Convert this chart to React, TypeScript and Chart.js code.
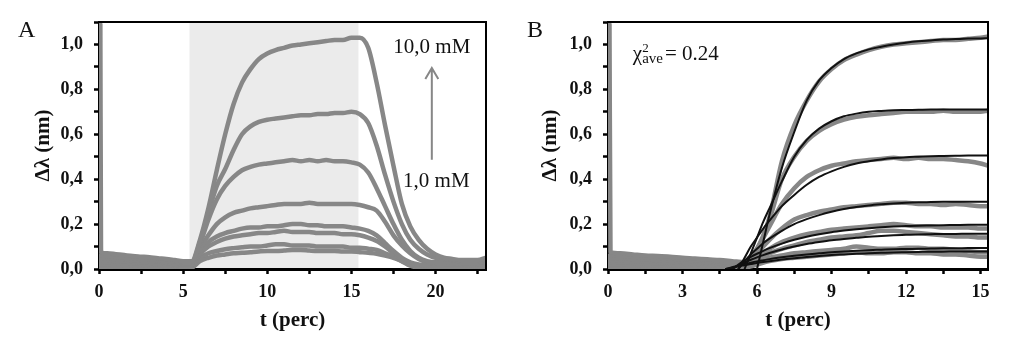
import React, { useEffect, useRef } from "react";
import { Chart, registerables } from "chart.js";

Chart.register(...registerables);

const SERIF = "'Liberation Serif', 'Times New Roman', Times, serif";
const TEXT = "#111111";
const DATA_GRAY = "#878787";
const FIT_BLACK = "#111111";
const SHADE = "#ebebeb";

// ---------- shared axis settings ----------
const Y_MIN = 0;
const Y_MAX = 1.1;
const Y_STEP = 0.1;
const Y_TITLE = "Δλ (nm)";
const X_TITLE = "t (perc)";

// ---------- Panel A ----------
const A_X_MAX = 23;
const A_X_STEP = 2.5;
const SHADE_FROM = 5.38;
const SHADE_TO = 15.42;
const ARROW_T = 19.78;
const ARROW_FROM = 0.486;
const ARROW_TO = 0.895;
const LABEL_HIGH = "10,0 mM";
const LABEL_HIGH_AT = [19.78, 0.962];
const LABEL_LOW = "1,0 mM";
const LABEL_LOW_AT = [20.05, 0.364];

const tA = [0.08, 0.12, 0.5, 1, 1.5, 2, 2.5, 3, 3.5, 4, 4.5, 5, 5.5, 6, 6.5, 7, 7.5, 8, 8.5, 9, 9.5, 10, 10.5, 11, 11.5, 12, 12.5, 13, 13.5, 14, 14.5, 15, 15.5, 16, 16.5, 17, 17.5, 18, 18.5, 19, 19.5, 20, 20.5, 21, 21.5, 22, 22.5, 23];

const a1 = [1.09, 0.075, 0.07, 0.066, 0.062, 0.058, 0.055, 0.052, 0.048, 0.045, 0.04, 0.035, 0.035, 0.13, 0.27, 0.44, 0.6, 0.735, 0.83, 0.89, 0.935, 0.96, 0.975, 0.985, 0.995, 1.0, 1.005, 1.01, 1.015, 1.02, 1.02, 1.03, 1.03, 0.985, 0.83, 0.64, 0.46, 0.29, 0.19, 0.13, 0.09, 0.065, 0.05, 0.045, 0.04, 0.04, 0.04, 0.05];
const a2 = [0.06, 0.06, 0.057, 0.054, 0.05, 0.048, 0.045, 0.042, 0.04, 0.036, 0.033, 0.03, 0.03, 0.12, 0.25, 0.37, 0.445, 0.53, 0.6, 0.635, 0.655, 0.665, 0.67, 0.675, 0.68, 0.685, 0.685, 0.69, 0.69, 0.695, 0.695, 0.7, 0.69, 0.65, 0.55, 0.42, 0.3, 0.2, 0.13, 0.09, 0.065, 0.05, 0.045, 0.04, 0.035, 0.035, 0.035, 0.045];
const a3 = [0.05, 0.05, 0.048, 0.045, 0.043, 0.04, 0.038, 0.035, 0.033, 0.03, 0.027, 0.025, 0.025, 0.11, 0.22, 0.31, 0.37, 0.41, 0.44, 0.455, 0.465, 0.47, 0.475, 0.48, 0.485, 0.48, 0.485, 0.48, 0.485, 0.48, 0.48, 0.475, 0.465, 0.43, 0.36, 0.28, 0.2, 0.13, 0.08, 0.05, 0.035, 0.03, 0.03, 0.028, 0.025, 0.025, 0.028, 0.035];
const a4 = [0.04, 0.04, 0.038, 0.036, 0.034, 0.032, 0.03, 0.028, 0.026, 0.024, 0.022, 0.02, 0.02, 0.09, 0.15, 0.2, 0.23, 0.25, 0.26, 0.27, 0.275, 0.28, 0.285, 0.29, 0.29, 0.29, 0.295, 0.29, 0.29, 0.29, 0.29, 0.29, 0.285, 0.275, 0.26, 0.21, 0.15, 0.105, 0.07, 0.045, 0.03, 0.025, 0.02, 0.02, 0.02, 0.018, 0.02, 0.025];
const a5 = [0.03, 0.03, 0.029, 0.028, 0.026, 0.025, 0.023, 0.022, 0.02, 0.018, 0.016, 0.015, 0.015, 0.075, 0.12, 0.145, 0.16, 0.17, 0.18, 0.185, 0.185, 0.19, 0.19, 0.195, 0.2, 0.2, 0.195, 0.195, 0.19, 0.19, 0.19, 0.185, 0.18, 0.17, 0.15, 0.115, 0.08, 0.05, 0.03, 0.02, 0.015, 0.012, 0.01, 0.01, 0.01, 0.01, 0.012, 0.015];
const a6 = [0.02, 0.02, 0.02, 0.019, 0.018, 0.017, 0.016, 0.015, 0.014, 0.013, 0.012, 0.01, 0.012, 0.065, 0.1, 0.12, 0.135, 0.145, 0.15, 0.155, 0.16, 0.16, 0.165, 0.17, 0.165, 0.165, 0.165, 0.16, 0.16, 0.16, 0.155, 0.155, 0.15, 0.14, 0.125, 0.1, 0.07, 0.04, 0.02, 0.01, 0.008, 0.006, 0.005, 0.005, 0.005, 0.005, 0.006, 0.008];
const a7 = [0.012, 0.012, 0.012, 0.011, 0.01, 0.01, 0.009, 0.008, 0.008, 0.007, 0.006, 0.005, 0.008, 0.05, 0.07, 0.08, 0.088, 0.093, 0.097, 0.1, 0.1, 0.105, 0.11, 0.11, 0.105, 0.105, 0.105, 0.1, 0.1, 0.1, 0.1, 0.095, 0.095, 0.09, 0.085, 0.07, 0.055, 0.035, 0.015, 0.005, 0.003, 0.002, 0.002, 0.002, 0.002, 0.002, 0.003, 0.004];
const a8 = [0.005, 0.005, 0.005, 0.004, 0.004, 0.003, 0.003, 0.003, 0.002, 0.002, 0.002, 0.002, 0.005, 0.035, 0.05, 0.06, 0.065, 0.07, 0.072, 0.075, 0.078, 0.08, 0.08, 0.082, 0.085, 0.085, 0.082, 0.08, 0.08, 0.08, 0.078, 0.078, 0.075, 0.072, 0.068, 0.06, 0.05, 0.035, 0.02, 0.005, 0, 0, 0, 0, 0, 0, 0, 0];
const seriesA = [a1, a2, a3, a4, a5, a6, a7, a8];

// ---------- Panel B ----------
const B_X_MAX = 15.3;
const B_X_STEP = 1.5;
const CHI_AT = [1.0, 0.931];
const CHI_VALUE = "= 0.24";

const tB = [0.06, 0.1, 0.5, 1, 1.5, 2, 2.5, 3, 3.5, 4, 4.5, 5, 5.5, 6, 6.5, 7, 7.5, 8, 8.5, 9, 9.5, 10, 10.5, 11, 11.5, 12, 12.5, 13, 13.5, 14, 14.5, 15, 15.3];

const b1 = [1.09, 0.075, 0.07, 0.065, 0.06, 0.058, 0.055, 0.05, 0.047, 0.043, 0.04, 0.035, 0.03, 0.08, 0.23, 0.48, 0.64, 0.75, 0.835, 0.89, 0.93, 0.955, 0.975, 0.99, 1.0, 1.005, 1.01, 1.015, 1.02, 1.02, 1.025, 1.03, 1.035];
const b2 = [0.06, 0.06, 0.058, 0.055, 0.052, 0.05, 0.047, 0.044, 0.04, 0.037, 0.033, 0.028, 0.03, 0.09, 0.22, 0.4, 0.5, 0.57, 0.615, 0.645, 0.665, 0.678, 0.685, 0.69, 0.695, 0.7, 0.7, 0.7, 0.705, 0.7, 0.7, 0.7, 0.705];
const b3 = [0.05, 0.05, 0.048, 0.045, 0.043, 0.04, 0.038, 0.035, 0.033, 0.03, 0.027, 0.022, 0.025, 0.09, 0.19, 0.29, 0.36, 0.41, 0.44, 0.46, 0.47, 0.48, 0.485, 0.49, 0.495, 0.49, 0.495, 0.49, 0.49, 0.485, 0.48, 0.47, 0.46];
const b4 = [0.04, 0.04, 0.038, 0.036, 0.034, 0.032, 0.03, 0.028, 0.026, 0.024, 0.022, 0.018, 0.02, 0.07, 0.13, 0.18, 0.22, 0.24, 0.255, 0.265, 0.275, 0.28, 0.285, 0.29, 0.295, 0.295, 0.29, 0.29, 0.285, 0.29, 0.285, 0.28, 0.28];
const b5 = [0.03, 0.03, 0.029, 0.028, 0.026, 0.025, 0.023, 0.022, 0.02, 0.018, 0.016, 0.013, 0.015, 0.05, 0.09, 0.12, 0.14, 0.155, 0.165, 0.175, 0.18, 0.185, 0.19, 0.195, 0.2, 0.195, 0.19, 0.19, 0.185, 0.185, 0.185, 0.18, 0.18];
const b6 = [0.02, 0.02, 0.02, 0.019, 0.018, 0.017, 0.016, 0.015, 0.014, 0.013, 0.012, 0.01, 0.012, 0.04, 0.07, 0.09, 0.105, 0.12, 0.13, 0.14, 0.145, 0.15, 0.16, 0.17, 0.17, 0.165, 0.16, 0.155, 0.15, 0.145, 0.145, 0.14, 0.14];
const b7 = [0.012, 0.012, 0.012, 0.011, 0.01, 0.01, 0.009, 0.008, 0.008, 0.007, 0.006, 0.005, 0.008, 0.03, 0.05, 0.06, 0.07, 0.075, 0.08, 0.085, 0.09, 0.1, 0.095, 0.09, 0.09, 0.095, 0.095, 0.09, 0.09, 0.085, 0.08, 0.075, 0.075];
const b8 = [0.005, 0.005, 0.005, 0.004, 0.004, 0.003, 0.003, 0.003, 0.002, 0.002, 0.002, 0.002, 0.005, 0.02, 0.035, 0.045, 0.05, 0.055, 0.06, 0.065, 0.07, 0.075, 0.07, 0.07, 0.075, 0.075, 0.07, 0.07, 0.065, 0.065, 0.06, 0.055, 0.055];
const seriesB = [b1, b2, b3, b4, b5, b6, b7, b8];

const tFit = [4.75, 5, 5.25, 5.5, 5.75, 6, 6.25, 6.5, 7, 7.5, 8, 8.5, 9, 9.5, 10, 10.5, 11, 11.5, 12, 12.5, 13, 13.5, 14, 14.5, 15, 15.3];

const f1 = [null, null, null, null, null, 0, 0.12, 0.24, 0.45, 0.61, 0.75, 0.84, 0.895, 0.935, 0.96, 0.978, 0.99, 1.0, 1.008, 1.014, 1.018, 1.022, 1.024, 1.026, 1.027, 1.028];
const f2 = [null, null, null, 0, 0.07, 0.14, 0.21, 0.27, 0.39, 0.5, 0.575, 0.625, 0.658, 0.68, 0.692, 0.7, 0.704, 0.707, 0.708, 0.709, 0.71, 0.71, 0.71, 0.71, 0.71, 0.71];
const f3 = [null, null, 0, 0.05, 0.1, 0.14, 0.18, 0.215, 0.28, 0.33, 0.375, 0.41, 0.435, 0.455, 0.47, 0.48, 0.488, 0.494, 0.498, 0.5, 0.502, 0.503, 0.504, 0.505, 0.505, 0.505];
const f4 = [null, null, 0, 0.035, 0.065, 0.09, 0.115, 0.135, 0.17, 0.2, 0.222, 0.24, 0.255, 0.267, 0.276, 0.283, 0.288, 0.292, 0.295, 0.297, 0.298, 0.299, 0.3, 0.3, 0.3, 0.3];
const f5 = [null, 0, 0.02, 0.038, 0.054, 0.068, 0.081, 0.093, 0.113, 0.13, 0.144, 0.155, 0.164, 0.171, 0.177, 0.182, 0.186, 0.189, 0.191, 0.193, 0.194, 0.195, 0.196, 0.197, 0.197, 0.197];
const f6 = [null, 0, 0.015, 0.029, 0.041, 0.052, 0.062, 0.071, 0.087, 0.1, 0.111, 0.12, 0.128, 0.134, 0.139, 0.144, 0.147, 0.15, 0.152, 0.154, 0.155, 0.156, 0.156, 0.157, 0.157, 0.157];
const f7 = [0, 0.008, 0.015, 0.022, 0.028, 0.034, 0.039, 0.044, 0.052, 0.059, 0.065, 0.07, 0.075, 0.078, 0.081, 0.084, 0.086, 0.088, 0.089, 0.09, 0.091, 0.092, 0.092, 0.093, 0.093, 0.093];
const f8 = [0, 0.006, 0.012, 0.017, 0.022, 0.027, 0.031, 0.035, 0.042, 0.048, 0.053, 0.058, 0.062, 0.065, 0.068, 0.07, 0.072, 0.074, 0.075, 0.076, 0.077, 0.077, 0.078, 0.078, 0.078, 0.078];
const fitsB = [f1, f2, f3, f4, f5, f6, f7, f8];

// ---------- helpers ----------
Chart.defaults.font.family = SERIF;

const tickFont = { family: SERIF, size: 18, weight: "bold" as const };
const titleFont = { family: SERIF, size: 21, weight: "bold" as const };

function lineDataset(ts: number[], vs: (number | null)[], color: string, width: number, order: number) {
  return {
    type: "line" as const,
    data: ts.map((t, i) => ({ x: t, y: vs[i] })),
    borderColor: color,
    backgroundColor: color,
    borderWidth: width,
    pointRadius: 0,
    fill: false,
    cubicInterpolationMode: "monotone" as const,
    spanGaps: false,
    borderJoinStyle: "round" as const,
    borderCapStyle: "round" as const,
    order,
  };
}

function yLabel(v: number) {
  const k = Math.round(v * 10);
  return k % 2 === 0 && k <= 10 ? (k / 10).toFixed(1).replace(".", ",") : "";
}

function yScale(width: number, titlePad: number) {
  return {
    type: "linear",
    min: Y_MIN,
    max: Y_MAX,
    z: 1,
    afterFit: (s: any) => {
      s.width = width;
    },
    border: { display: true, color: "#000", width: 3 },
    grid: { display: true, drawOnChartArea: false, drawTicks: true, tickLength: 5, tickWidth: 2.5, tickColor: "#000" },
    ticks: { stepSize: Y_STEP, autoSkip: false, padding: 11, color: TEXT, font: tickFont, callback: (v: any) => yLabel(Number(v)) },
    title: { display: true, text: Y_TITLE, color: TEXT, font: titleFont, padding: { top: titlePad, bottom: 0 } },
  };
}

function xScale(max: number, step: number, labelEvery: number) {
  return {
    type: "linear",
    min: 0,
    max,
    afterFit: (s: any) => {
      s.height = 85;
    },
    border: { display: true, color: "#000", width: 3 },
    grid: { display: true, drawOnChartArea: false, drawTicks: true, tickLength: 5, tickWidth: 2.5, tickColor: "#000" },
    ticks: {
      stepSize: step,
      includeBounds: false,
      autoSkip: false,
      maxRotation: 0,
      padding: 8,
      color: TEXT,
      font: tickFont,
      callback: (v: any) => {
        const n = Number(v);
        const k = Math.round(n / step);
        return k % Math.round(labelEvery / step) === 0 ? String(Math.round(n)) : "";
      },
    },
    title: { display: true, text: X_TITLE, color: TEXT, font: titleFont, padding: { top: 0, bottom: 21 } },
  };
}

const framePlugin = {
  id: "frame",
  afterDraw(chart: any) {
    const { ctx, chartArea } = chart;
    ctx.save();
    ctx.strokeStyle = "#000";
    ctx.lineWidth = 2;
    ctx.beginPath();
    ctx.moveTo(chartArea.left, chartArea.top);
    ctx.lineTo(chartArea.right, chartArea.top);
    ctx.lineTo(chartArea.right, chartArea.bottom);
    ctx.stroke();
    ctx.restore();
  },
};

function letterPlugin(letter: string, x: number, y: number) {
  return {
    id: "letter" + letter,
    afterDraw(chart: any) {
      const { ctx } = chart;
      ctx.save();
      ctx.fillStyle = TEXT;
      ctx.font = `24px ${SERIF}`;
      ctx.textAlign = "left";
      ctx.textBaseline = "alphabetic";
      ctx.fillText(letter, x, y);
      ctx.restore();
    },
  };
}

const shadePlugin = {
  id: "shade",
  beforeDraw(chart: any) {
    const { ctx, chartArea, scales } = chart;
    const x0 = scales.x.getPixelForValue(SHADE_FROM);
    const x1 = scales.x.getPixelForValue(SHADE_TO);
    ctx.save();
    ctx.fillStyle = SHADE;
    ctx.fillRect(x0, chartArea.top, x1 - x0, chartArea.bottom - chartArea.top);
    ctx.restore();
  },
};

const annotationAPlugin = {
  id: "annotA",
  afterDraw(chart: any) {
    const { ctx, scales } = chart;
    const xs = scales.x;
    const ys = scales.y;
    ctx.save();
    ctx.fillStyle = TEXT;
    ctx.font = `21px ${SERIF}`;
    ctx.textAlign = "center";
    ctx.textBaseline = "alphabetic";
    ctx.fillText(LABEL_HIGH, xs.getPixelForValue(LABEL_HIGH_AT[0]), ys.getPixelForValue(LABEL_HIGH_AT[1]));
    ctx.fillText(LABEL_LOW, xs.getPixelForValue(LABEL_LOW_AT[0]), ys.getPixelForValue(LABEL_LOW_AT[1]));
    const ax = xs.getPixelForValue(ARROW_T);
    const y0 = ys.getPixelForValue(ARROW_FROM);
    const y1 = ys.getPixelForValue(ARROW_TO);
    ctx.strokeStyle = DATA_GRAY;
    ctx.lineWidth = 2;
    ctx.beginPath();
    ctx.moveTo(ax, y0);
    ctx.lineTo(ax, y1);
    ctx.moveTo(ax - 6.5, y1 + 11);
    ctx.lineTo(ax, y1);
    ctx.lineTo(ax + 6.5, y1 + 11);
    ctx.stroke();
    ctx.restore();
  },
};

const chiPlugin = {
  id: "chi",
  afterDraw(chart: any) {
    const { ctx, scales } = chart;
    let x = scales.x.getPixelForValue(CHI_AT[0]);
    const y = scales.y.getPixelForValue(CHI_AT[1]);
    ctx.save();
    ctx.fillStyle = TEXT;
    ctx.textAlign = "left";
    ctx.textBaseline = "alphabetic";
    ctx.font = `21px ${SERIF}`;
    ctx.fillText("χ", x, y);
    x += ctx.measureText("χ").width;
    ctx.font = `13px ${SERIF}`;
    ctx.fillText("2", x, y - 8);
    ctx.font = `15px ${SERIF}`;
    ctx.fillText("ave", x, y + 3);
    x += ctx.measureText("ave").width + 2;
    ctx.font = `21px ${SERIF}`;
    ctx.fillText(CHI_VALUE, x, y);
    ctx.restore();
  },
};

function buildA() {
  return {
    type: "line",
    data: {
      datasets: seriesA.map((s) => lineDataset(tA, s, DATA_GRAY, 4.5, 1)),
    },
    options: {
      responsive: false,
      animation: false,
      events: [],
      layout: { padding: { left: 0, top: 22, right: 14, bottom: 0 } },
      plugins: { legend: { display: false }, tooltip: { enabled: false } },
      scales: {
        x: xScale(A_X_MAX, A_X_STEP, 5),
        y: yScale(99, 31),
      },
    },
    plugins: [shadePlugin, framePlugin, annotationAPlugin, letterPlugin("A", 18, 37)],
  };
}

function buildB() {
  return {
    type: "line",
    data: {
      datasets: [
        ...fitsB.map((s) => lineDataset(tFit, s, FIT_BLACK, 2, 0)),
        ...seriesB.map((s) => lineDataset(tB, s, DATA_GRAY, 4.5, 1)),
      ],
    },
    options: {
      responsive: false,
      animation: false,
      events: [],
      layout: { padding: { left: 0, top: 22, right: 35, bottom: 0 } },
      plugins: { legend: { display: false }, tooltip: { enabled: false } },
      scales: {
        x: xScale(B_X_MAX, B_X_STEP, 3),
        y: yScale(108, 38),
      },
    },
    plugins: [framePlugin, chiPlugin, letterPlugin("B", 27, 37)],
  };
}

function ChartCanvas({ width, height, left, build }: { width: number; height: number; left: number; build: () => any }) {
  const ref = useRef<HTMLCanvasElement | null>(null);
  useEffect(() => {
    if (!ref.current) return;
    const chart = new Chart(ref.current, build());
    return () => chart.destroy();
  }, []);
  return (
    <canvas
      ref={ref}
      width={width}
      height={height}
      style={{ position: "absolute", left, top: 0, width, height, display: "block" }}
    />
  );
}

export default function App() {
  return (
    <div style={{ position: "fixed", left: 0, top: 0, width: 1023, height: 354, background: "#fff", overflow: "hidden" }}>
      <ChartCanvas width={500} height={354} left={0} build={buildA} />
      <ChartCanvas width={523} height={354} left={500} build={buildB} />
    </div>
  );
}
